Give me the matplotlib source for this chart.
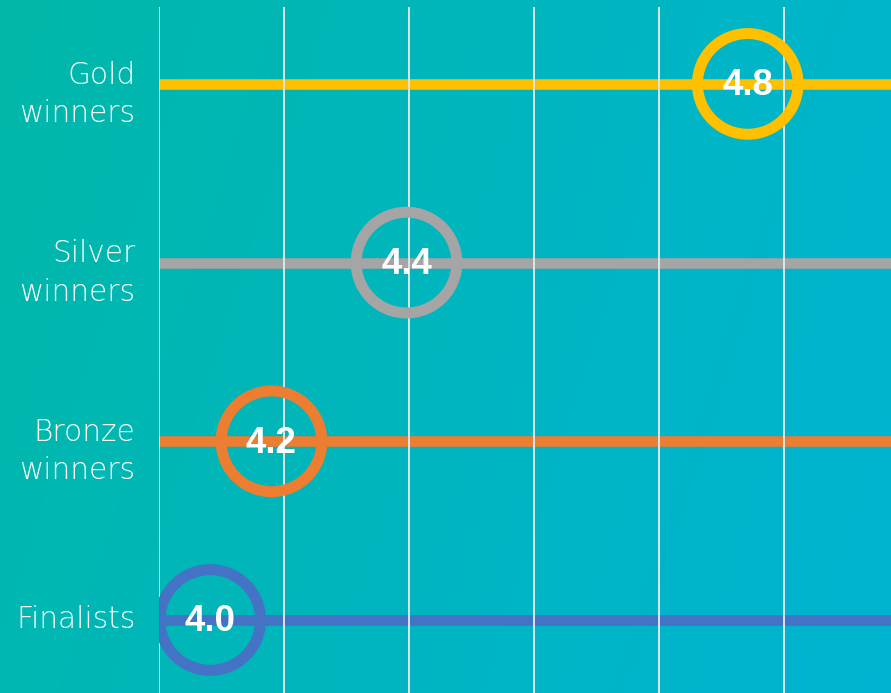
import numpy as np
import matplotlib
matplotlib.use("Agg")
import matplotlib.pyplot as plt
from matplotlib.colors import LinearSegmentedColormap
from matplotlib.transforms import offset_copy
from matplotlib import font_manager as fm

# ---- data ----
categories = ["Finalists", "Bronze\nwinners", "Silver\nwinners", "Gold\nwinners"]
scores = [4.0, 4.2, 4.4, 4.8]
score_labels = ["4.0", "4.2", "4.4", "4.8"]
# marker placement along the (unlabelled) grid, in grid units
marker_x = [0.41, 0.90, 1.98, 4.71]
grid_ticks = [0, 1, 2, 3, 4, 5]
colors = ["#4472C4", "#ED7D31", "#A5A5A5", "#FFC000"]

# pick the regular-width Liberation Sans Bold file (avoid the Narrow variant)
num_font = None
for f in fm.fontManager.ttflist:
    if f.name == "Liberation Sans" and f.weight in (700, "bold") and f.style == "normal" \
            and "narrow" not in f.fname.lower():
        num_font = fm.FontProperties(fname=f.fname, size=26.5)
        break
if num_font is None:
    num_font = fm.FontProperties(family="Liberation Sans", weight="bold", size=26.5)

W, H, DPI = 891, 693, 100
fig = plt.figure(figsize=(W / DPI, H / DPI), dpi=DPI)

# gradient background
bg = fig.add_axes([0, 0, 1, 1])
bg.set_axis_off()
xx, yy = np.meshgrid(np.linspace(0, 1, 300), np.linspace(0, 1, 300))
t = np.clip(0.8 * xx + 0.2 * yy, 0, 1)
cmap = LinearSegmentedColormap.from_list("bg", ["#00B8A9", "#00B6BF", "#00B4D2"])
bg.imshow(t, cmap=cmap, aspect="auto", extent=[0, 1, 0, 1], origin="upper")
bg.set_xlim(0, 1)
bg.set_ylim(0, 1)

left = 159 / W
ax = fig.add_axes([left, 0, 1 - left, 1])
ax.patch.set_alpha(0)
xmax = (W - 159) / 125
ax.set_xlim(0, xmax)
step = 178.7
ax.set_ylim(-(H - 620) / step, 620 / step)
ytop_frac = (H - 8) / H

for i, (c, col) in enumerate(zip(categories, colors)):
    ax.plot([0, xmax], [i, i], color=col, lw=7.6, solid_capstyle="butt", zorder=2)

for g in grid_ticks:
    ax.axvline(g, ymin=0, ymax=ytop_frac, color="#DDE6E6", lw=1.4, zorder=3)

num_tr = offset_copy(ax.transData, fig=fig, x=0, y=1.5, units="points")
for i, (x, col, lab) in enumerate(zip(marker_x, colors, score_labels)):
    ax.scatter([x], [i], s=72.5 ** 2, facecolors="none", edgecolors=col,
               linewidths=7.9, zorder=4)
    ax.text(x, i, lab, ha="center", va="center_baseline", color="white",
            fontproperties=num_font, transform=num_tr, zorder=5)

# category labels
for i, c in enumerate(categories):
    dy = -7.5 if "\n" in c else 0.5
    ax.annotate(c, xy=(0, i), xycoords=("axes fraction", "data"),
                xytext=(-17, dy), textcoords="offset points",
                ha="right", va="center", multialignment="right",
                fontsize=21.3, color="white", family="DejaVu Sans",
                fontweight="light", linespacing=1.4, annotation_clip=False)

ax.set_yticks([])
ax.set_xticks([])
for s in ax.spines.values():
    s.set_visible(False)

fig.savefig("out.png", dpi=DPI)
